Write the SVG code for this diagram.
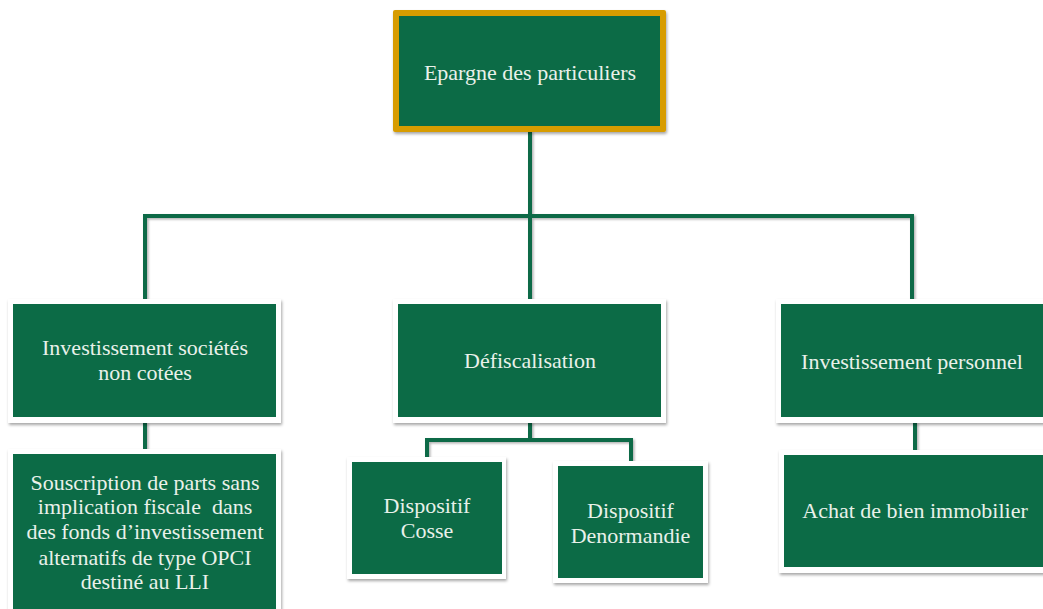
<svg xmlns="http://www.w3.org/2000/svg" width="1043" height="609" viewBox="0 0 1043 609">
<style>
.frame{fill:#ffffff;}
.box{fill:#0c6b46;}
.gold{fill:#d79c00;}
.t{font-family:"Liberation Serif","Times New Roman",serif;font-size:22px;fill:#e9f1ea;text-anchor:middle;white-space:pre;}
.c{fill:none;stroke:#0d6b47;stroke-width:4;stroke-linejoin:miter;stroke-linecap:butt;}
</style>
<defs>
<filter id="sh" x="-10%" y="-10%" width="120%" height="130%">
<feDropShadow dx="1" dy="2" stdDeviation="1.6" flood-color="#000" flood-opacity="0.35"/>
</filter>
<filter id="lsh" x="-10%" y="-10%" width="120%" height="130%">
<feDropShadow dx="1.5" dy="1.5" stdDeviation="1" flood-color="#000" flood-opacity="0.3"/>
</filter>
</defs>
<rect width="1043" height="609" fill="#ffffff"/>
<g id="connectors" filter="url(#lsh)">
<path class="c" d="M145,300 V216 H912 V300"/>
<path class="c" d="M530,131 V300"/>
<path class="c" d="M145,422 V450"/>
<path class="c" d="M427,458 V440 H631 V462"/>
<path class="c" d="M530,422 V440"/>
<path class="c" d="M915,422 V451"/>
</g>
<g id="root">
<rect class="gold" x="393" y="10" width="273" height="122" rx="2" filter="url(#sh)"/>
<rect class="box" x="399" y="16" width="261" height="110"/>
<text class="t" x="530" y="80">Epargne des particuliers</text>
</g>
<g id="societes">
<rect class="frame" x="8" y="299" width="273" height="124" filter="url(#sh)"/>
<rect class="box" x="13" y="304" width="263" height="113"/>
<text class="t" x="145" y="355">Investissement sociétés</text>
<text class="t" x="145" y="380">non cotées</text>
</g>
<g id="defiscalisation">
<rect class="frame" x="393" y="299" width="273" height="124" filter="url(#sh)"/>
<rect class="box" x="398" y="304" width="263" height="113"/>
<text class="t" x="530" y="368">Défiscalisation</text>
</g>
<g id="personnel">
<rect class="frame" x="776" y="299" width="272" height="124" filter="url(#sh)"/>
<rect class="box" x="781" y="304" width="267" height="113"/>
<text class="t" x="912" y="369">Investissement personnel</text>
</g>
<g id="souscription">
<rect class="frame" x="8" y="449" width="273" height="170" filter="url(#sh)"/>
<rect class="box" x="13" y="454" width="263" height="160"/>
<text class="t" x="145" y="490">Souscription de parts sans</text>
<text class="t" x="145" y="514" xml:space="preserve">implication fiscale  dans</text>
<text class="t" x="145" y="539">des fonds d’investissement</text>
<text class="t" x="145" y="565">alternatifs de type OPCI</text>
<text class="t" x="145" y="589">destiné au LLI</text>
</g>
<g id="cosse">
<rect class="frame" x="347" y="457" width="159" height="122" filter="url(#sh)"/>
<rect class="box" x="352" y="462" width="150" height="112"/>
<text class="t" x="427" y="513">Dispositif</text>
<text class="t" x="427" y="538">Cosse</text>
</g>
<g id="denormandie">
<rect class="frame" x="553" y="461" width="155" height="122" filter="url(#sh)"/>
<rect class="box" x="558" y="466" width="145" height="112"/>
<text class="t" x="630.5" y="518">Dispositif</text>
<text class="t" x="630.5" y="543">Denormandie</text>
</g>
<g id="achat">
<rect class="frame" x="779" y="450" width="272" height="123" filter="url(#sh)"/>
<rect class="box" x="784" y="455" width="262" height="112"/>
<text class="t" x="915" y="518">Achat de bien immobilier</text>
</g>
</svg>
